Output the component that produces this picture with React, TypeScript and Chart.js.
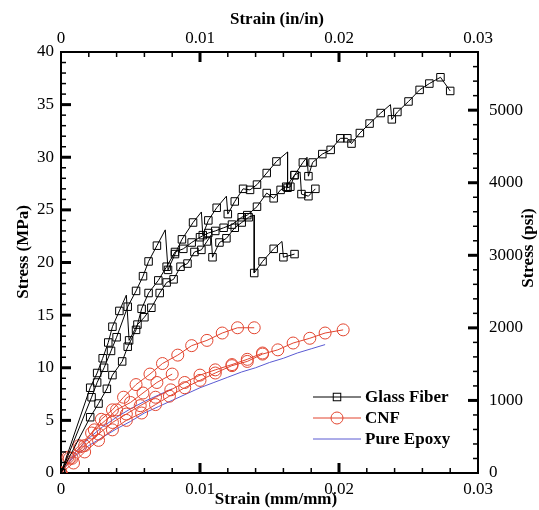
import React, { useEffect, useRef } from 'react';
import { Chart, registerables } from 'chart.js';

Chart.register(...registerables);

type P = [number, number];

// ---------- tick values ----------
const X_TICKS = [0, 0.01, 0.02, 0.03];
const Y_TICKS = [0, 5, 10, 15, 20, 25, 30, 35, 40];
const PSI_TICKS = [0, 1000, 2000, 3000, 4000, 5000];
const MPA_TO_PSI = 145.0377;

// ---------- data: [strain (mm/mm), stress (MPa)] ----------
const GLASS_A: P[] = [
  [0, 0], [0.0021, 8.1], [0.0026, 9.5], [0.003, 10.9], [0.0034, 12.4], [0.0037, 13.9],
  [0.0042, 15.4], [0.0047, 16.9], [0.0049, 12.6], [0.0055, 14.1], [0.006, 14.8],
  [0.0065, 15.7], [0.0071, 17.1], [0.0076, 18.1], [0.0081, 18.4], [0.0086, 19.6],
  [0.0091, 19.9], [0.0096, 21.0], [0.0101, 21.2], [0.0105, 22.0], [0.0108, 22.6],
  [0.0109, 20.5], [0.0114, 21.9], [0.0119, 22.3], [0.0125, 23.3], [0.013, 23.8],
  [0.0135, 24.3], [0.0139, 24.5], [0.0139, 19.0], [0.0145, 20.1], [0.0153, 21.3],
  [0.0159, 22.0], [0.016, 20.5], [0.0168, 20.8],
];
const GLASS_B: P[] = [
  [0, 0], [0.0022, 7.2], [0.0026, 8.6], [0.0031, 10.0], [0.0036, 11.6], [0.004, 12.9],
  [0.0048, 15.8], [0.0054, 17.3], [0.0059, 18.7], [0.0063, 20.1], [0.0069, 21.6],
  [0.0075, 23.1], [0.0077, 19.3], [0.0082, 20.8], [0.0087, 22.2], [0.0095, 23.8],
  [0.0101, 24.8], [0.0102, 22.6], [0.0106, 24.0], [0.0112, 25.2], [0.0119, 26.3],
  [0.012, 24.6], [0.0125, 25.8], [0.0131, 27.0], [0.0136, 26.9], [0.0141, 27.4],
  [0.0148, 28.5], [0.0155, 29.6], [0.0163, 30.5], [0.0163, 27.1], [0.0165, 27.2],
  [0.0168, 28.3], [0.0174, 29.5], [0.0177, 30.0], [0.0178, 28.2], [0.0181, 29.5],
  [0.0188, 30.3], [0.0194, 30.7], [0.0201, 31.8], [0.0206, 31.8], [0.0209, 31.3],
  [0.0215, 32.3], [0.0222, 33.2], [0.023, 34.2], [0.0237, 35.0], [0.0238, 33.6],
  [0.0242, 34.3], [0.025, 35.3], [0.0258, 36.4], [0.0265, 37.0], [0.0273, 37.6],
  [0.028, 36.3],
];
const GLASS_C: P[] = [
  [0, 0], [0.0021, 5.3], [0.0027, 6.6], [0.0033, 8.0], [0.0037, 9.3], [0.0044, 10.6],
  [0.0048, 12.0], [0.0054, 13.6], [0.0058, 15.6], [0.0063, 17.1], [0.007, 18.3],
  [0.0076, 19.6], [0.0082, 21.0], [0.0088, 21.3], [0.0094, 21.9], [0.01, 22.4],
  [0.0106, 22.8], [0.0111, 23.0], [0.0117, 23.3], [0.0123, 23.6], [0.013, 24.3],
  [0.0134, 24.5], [0.0141, 25.3], [0.0148, 26.6], [0.0153, 26.1], [0.0158, 26.9],
  [0.0162, 27.2], [0.0168, 28.3], [0.0172, 28.6], [0.0173, 26.5], [0.0178, 26.3],
  [0.0183, 27.0],
];

const CNF_1: P[] = [
  [0, 0], [0.0005, 1.5], [0.0013, 2.6], [0.0022, 3.8], [0.0029, 5.1], [0.0037, 6.0],
  [0.0045, 7.2], [0.0054, 8.4], [0.0064, 9.4], [0.0073, 10.4], [0.0084, 11.2],
  [0.0094, 12.1], [0.0105, 12.6], [0.0116, 13.3], [0.0127, 13.8], [0.0139, 13.8],
];
const CNF_2: P[] = [
  [0, 0], [0.0006, 1.4], [0.0014, 2.5], [0.0024, 4.1], [0.0032, 5.0], [0.004, 6.0],
  [0.005, 6.7], [0.0059, 7.6], [0.0069, 8.6], [0.008, 9.4],
];
const CNF_3: P[] = [
  [0, 0], [0.0008, 1.4], [0.0017, 2.6], [0.0027, 3.7], [0.0037, 4.8], [0.0047, 5.6],
  [0.0057, 6.4], [0.0068, 7.2], [0.0079, 7.9], [0.0089, 8.6], [0.01, 9.3],
  [0.0111, 9.8], [0.0123, 10.3], [0.0134, 10.8], [0.0145, 11.4],
];
const CNF_4: P[] = [
  [0, 0], [0.0009, 0.95], [0.0017, 2.0], [0.0027, 3.1], [0.0037, 4.1], [0.0047, 5.0],
  [0.0058, 5.7], [0.0068, 6.5], [0.0078, 7.3], [0.0089, 8.1], [0.01, 8.8],
  [0.0111, 9.5], [0.0123, 10.2], [0.0134, 10.6], [0.0145, 11.3], [0.0156, 11.7],
  [0.0167, 12.35], [0.0179, 12.8], [0.019, 13.3], [0.0203, 13.6],
];

const EPOXY_1: P[] = [
  [0, 0], [0.0005, 0.9], [0.001, 1.6], [0.002, 2.6], [0.003, 3.4], [0.004, 4.2],
  [0.005, 4.9], [0.006, 5.7], [0.007, 6.3], [0.008, 6.9], [0.009, 7.5], [0.01, 8.1],
  [0.011, 8.6], [0.012, 9.1], [0.013, 9.6], [0.014, 10.0], [0.015, 10.5],
  [0.016, 10.9], [0.017, 11.4], [0.018, 11.8], [0.019, 12.2],
];
const EPOXY_2: P[] = [
  [0, 0], [0.001, 1.9], [0.002, 3.3], [0.003, 4.4], [0.004, 5.3], [0.005, 6.1],
  [0.006, 6.8], [0.007, 7.4], [0.008, 8.0],
];

const SERIES_LABELS = ['Glass Fiber', 'CNF', 'Pure Epoxy'];

// ---------- styles ----------
const BLACK = '#000000';
const RED = '#e2452f';
const BLUE = '#5a5ad2';
const FAMILY = '"Liberation Serif", "Times New Roman", serif';

const toXY = (arr: P[]) => arr.map(([x, y]) => ({ x, y }));

// hide the marker on the sharp peak just before a load drop
const markerRadius = (r: number) => (ctx: any) => {
  const d = ctx.dataset.data as { x: number; y: number }[];
  const i = ctx.dataIndex;
  const c = d[i];
  const n = d[i + 1];
  if (c && n && n.y < c.y - 0.8 && n.x - c.x <= 0.00025) return 0;
  return r;
};

const glassDs = (arr: P[]) => ({
  label: SERIES_LABELS[0],
  data: toXY(arr),
  borderColor: BLACK,
  borderWidth: 1,
  pointStyle: 'rect',
  pointRadius: markerRadius(5.3),
  pointBorderColor: BLACK,
  pointBackgroundColor: 'rgba(0,0,0,0)',
  pointBorderWidth: 1,
  tension: 0,
  xAxisID: 'x',
  yAxisID: 'y',
});
const cnfDs = (arr: P[]) => ({
  label: SERIES_LABELS[1],
  data: toXY(arr),
  borderColor: RED,
  borderWidth: 1,
  pointStyle: 'circle',
  pointRadius: 6,
  pointBorderColor: RED,
  pointBackgroundColor: 'rgba(0,0,0,0)',
  pointBorderWidth: 1,
  tension: 0,
  xAxisID: 'x',
  yAxisID: 'y',
});
const epoxyDs = (arr: P[]) => ({
  label: SERIES_LABELS[2],
  data: toXY(arr),
  borderColor: BLUE,
  borderWidth: 1,
  pointRadius: 0,
  tension: 0,
  xAxisID: 'x',
  yAxisID: 'y',
});

const fmtStrain = (v: any) => (Number(v) === 0 ? '0' : Number(v).toFixed(2));
const fmtPlain = (v: any) => String(Math.round(Number(v)));

const decorPlugin = {
  id: 'decor',
  afterDraw(chart: any) {
    const ctx: CanvasRenderingContext2D = chart.ctx;
    const { left, right, top, bottom } = chart.chartArea;
    const sx = chart.scales.x;
    const sy = chart.scales.y;
    const sy2 = chart.scales.y2;
    ctx.save();
    ctx.strokeStyle = BLACK;
    const seg = (x1: number, y1: number, x2: number, y2: number, w: number) => {
      ctx.lineWidth = w;
      ctx.beginPath();
      ctx.moveTo(x1, y1);
      ctx.lineTo(x2, y2);
      ctx.stroke();
    };
    // strain ticks (top & bottom), inward
    for (let i = 1; i < 15; i++) {
      const px = sx.getPixelForValue(i * 0.002);
      const major = i % 5 === 0;
      const len = major ? 10 : 5;
      const w = major ? 3 : 1.5;
      seg(px, bottom, px, bottom - len, w);
      seg(px, top, px, top + len, w);
    }
    // MPa ticks (left), inward
    for (let v = 1; v < 40; v++) {
      const py = sy.getPixelForValue(v);
      const major = v % 5 === 0;
      seg(left, py, left + (major ? 10 : 5), py, major ? 3 : 1.5);
    }
    // psi ticks (right), inward
    for (let v = 200; v <= 5800; v += 200) {
      const py = sy2.getPixelForValue(v);
      const major = v % 1000 === 0;
      seg(right, py, right - (major ? 10 : 5), py, major ? 3 : 1.5);
    }

    // axis titles
    ctx.fillStyle = BLACK;
    ctx.font = `bold 17px ${FAMILY}`;
    ctx.textAlign = 'center';
    ctx.textBaseline = 'middle';
    ctx.fillText('Strain (in/in)', 277, 20);
    ctx.fillText('Strain (mm/mm)', 276, 500);
    ctx.save();
    ctx.translate(24, 252);
    ctx.rotate(-Math.PI / 2);
    ctx.fillText('Stress (MPa)', 0, 0);
    ctx.restore();
    ctx.save();
    ctx.translate(529, 248);
    ctx.rotate(-Math.PI / 2);
    ctx.fillText('Stress (psi)', 0, 0);
    ctx.restore();

    // legend inside the plot
    const x0 = left + 252;
    const x1 = left + 300;
    const xm = (x0 + x1) / 2;
    const tx = left + 304;
    const rows = [bottom - 76, bottom - 55, bottom - 34];
    const colors = [BLACK, RED, BLUE];
    ctx.textAlign = 'left';
    rows.forEach((y, k) => {
      ctx.strokeStyle = colors[k];
      seg(x0, y, x1, y, 1);
      ctx.lineWidth = 1;
      if (k === 0) {
        ctx.strokeRect(xm - 3.75, y - 3.75, 7.5, 7.5);
      } else if (k === 1) {
        ctx.beginPath();
        ctx.arc(xm, y, 6, 0, Math.PI * 2);
        ctx.stroke();
      }
      ctx.fillStyle = BLACK;
      ctx.fillText(SERIES_LABELS[k], tx, y + 1);
    });
    ctx.restore();
  },
};

const tickFont = { family: FAMILY, size: 17 };
const noGrid = { display: false, drawTicks: false, tickLength: 0 };

export default function App() {
  const ref = useRef<HTMLCanvasElement | null>(null);

  useEffect(() => {
    document.body.style.margin = '0';
    const canvas = ref.current;
    if (!canvas) return;
    const chart = new Chart(canvas, {
      type: 'line',
      data: {
        datasets: [
          glassDs(GLASS_A),
          glassDs(GLASS_B),
          glassDs(GLASS_C),
          cnfDs(CNF_1),
          cnfDs(CNF_2),
          cnfDs(CNF_3),
          cnfDs(CNF_4),
          epoxyDs(EPOXY_1),
          epoxyDs(EPOXY_2),
        ] as any,
      },
      options: {
        responsive: false,
        animation: false,
        devicePixelRatio: 1,
        events: [],
        layout: { padding: 0 },
        plugins: { legend: { display: false }, tooltip: { enabled: false } },
        scales: {
          x: {
            type: 'linear',
            position: 'bottom',
            min: 0,
            max: 0.03,
            afterBuildTicks: (s: any) => { s.ticks = X_TICKS.map((v) => ({ value: v })); },
            ticks: { font: tickFont, color: BLACK, padding: 6, maxRotation: 0, autoSkip: false, callback: fmtStrain },
            grid: noGrid,
            border: { display: true, color: BLACK, width: 2 },
            afterFit: (s: any) => { s.height = 37; },
          },
          x2: {
            type: 'linear',
            position: 'top',
            min: 0,
            max: 0.03,
            afterBuildTicks: (s: any) => { s.ticks = X_TICKS.map((v) => ({ value: v })); },
            ticks: { font: tickFont, color: BLACK, padding: 3, maxRotation: 0, autoSkip: false, callback: fmtStrain },
            grid: noGrid,
            border: { display: true, color: BLACK, width: 2 },
            afterFit: (s: any) => { s.height = 52; },
          },
          y: {
            type: 'linear',
            position: 'left',
            min: 0,
            max: 40,
            afterBuildTicks: (s: any) => { s.ticks = Y_TICKS.map((v) => ({ value: v })); },
            ticks: { font: tickFont, color: BLACK, padding: 7, autoSkip: false, callback: fmtPlain },
            grid: noGrid,
            border: { display: true, color: BLACK, width: 2 },
            afterFit: (s: any) => { s.width = 61; },
          },
          y2: {
            type: 'linear',
            position: 'right',
            min: 0,
            max: 40 * MPA_TO_PSI,
            afterBuildTicks: (s: any) => { s.ticks = PSI_TICKS.map((v) => ({ value: v })); },
            ticks: { font: tickFont, color: BLACK, padding: 11, autoSkip: false, callback: fmtPlain },
            grid: noGrid,
            border: { display: true, color: BLACK, width: 2 },
            afterFit: (s: any) => { s.width = 61; },
          },
        },
      } as any,
      plugins: [decorPlugin],
    });
    return () => chart.destroy();
  }, []);

  return (
    <div style={{ width: 539, height: 510 }}>
      <canvas ref={ref} width={539} height={510} style={{ display: 'block' }} />
    </div>
  );
}
